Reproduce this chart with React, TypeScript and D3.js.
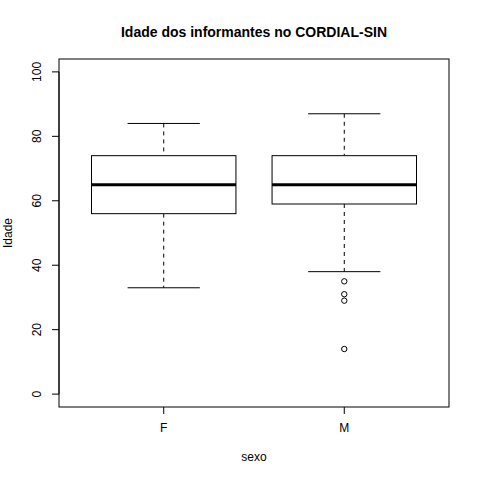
import React from "react";
import * as d3 from "d3";

const categories = ["F", "M"];
const lowerWhisker = [33, 38];
const q1 = [56, 59];
const median = [65, 65];
const q3 = [74, 74];
const upperWhisker = [84, 87];
const outliers: number[][] = [[], [35, 31, 29, 14]];
const yTicks = [0, 20, 40, 60, 80, 100];

const W = 480, H = 480;
const left = 59, right = 449, top = 59, bottom = 407;

export default function App() {
  const x = d3.scaleLinear().domain([0.42, 2.58]).range([left, right]);
  const y = d3.scaleLinear().domain([-4, 104]).range([bottom, top]);
  const font = "'Liberation Sans', Arial, Helvetica, sans-serif";
  return (
    <svg width={W} height={H} style={{ position: "absolute", left: 0, top: 0, background: "#fff" }} fontFamily={font}>
      <rect x={0} y={0} width={W} height={H} fill="#fff" />
      <text x={(left + right) / 2} y={37} textAnchor="middle" fontSize={14} fontWeight="bold">
        Idade dos informantes no CORDIAL-SIN
      </text>
      {categories.map((c, i) => {
        const cx = x(i + 1);
        const bw = x(1.4) - x(1);
        const sw = x(1.2) - x(1);
        return (
          <g key={c} stroke="#000" fill="none">
            <line x1={cx} x2={cx} y1={y(upperWhisker[i])} y2={y(q3[i])} strokeDasharray="4,4" />
            <line x1={cx} x2={cx} y1={y(q1[i])} y2={y(lowerWhisker[i])} strokeDasharray="4,4" />
            <line x1={cx - sw} x2={cx + sw} y1={y(upperWhisker[i])} y2={y(upperWhisker[i])} />
            <line x1={cx - sw} x2={cx + sw} y1={y(lowerWhisker[i])} y2={y(lowerWhisker[i])} />
            <rect x={cx - bw} y={y(q3[i])} width={2 * bw} height={y(q1[i]) - y(q3[i])} fill="#fff" />
            <line x1={cx - bw} x2={cx + bw} y1={y(median[i])} y2={y(median[i])} strokeWidth={3} />
            {outliers[i].map((v, j) => (
              <circle key={j} cx={cx} cy={y(v)} r={2.7} />
            ))}
          </g>
        );
      })}
      <rect x={left} y={top} width={right - left} height={bottom - top} fill="none" stroke="#000" />
      {yTicks.map((t) => (
        <g key={t}>
          <line x1={left - 7} x2={left} y1={y(t)} y2={y(t)} stroke="#000" />
          <text transform={`translate(41,${y(t)}) rotate(-90)`} textAnchor="middle" fontSize={12}>
            {t}
          </text>
        </g>
      ))}
      <line x1={left} x2={left} y1={y(0)} y2={y(100)} stroke="#000" />
      {categories.map((c, i) => (
        <g key={c}>
          <line x1={x(i + 1)} x2={x(i + 1)} y1={bottom} y2={bottom + 7} stroke="#000" />
          <text x={x(i + 1)} y={432} textAnchor="middle" fontSize={12}>
            {c}
          </text>
        </g>
      ))}
      <text x={(left + right) / 2} y={461} textAnchor="middle" fontSize={12}>sexo</text>
      <text transform={`translate(12,${(top + bottom) / 2}) rotate(-90)`} textAnchor="middle" fontSize={12}>
        Idade
      </text>
    </svg>
  );
}
